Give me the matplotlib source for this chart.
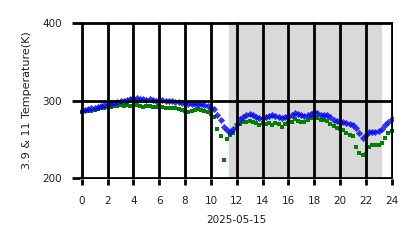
import numpy as np
import matplotlib
matplotlib.use("Agg")
import matplotlib.pyplot as plt

hours = np.arange(0, 24.01, 0.25)

temp_39 = [287, 288, 289, 290, 291, 292, 293, 294, 295, 296, 297, 298,
           299, 300, 301, 302, 303, 303, 302, 302, 301, 302, 301, 300,
           301, 301, 300, 299, 299, 298, 298, 297, 297, 296, 296, 295,
           295, 295, 294, 293, 291, 289, 282, 275, 266, 262, 260, 264,
           270, 276, 279, 282, 283, 281, 279, 278, 277, 279, 280, 281,
           280, 279, 278, 279, 279, 281, 284, 283, 281, 280, 281, 283,
           285, 284, 282, 281, 281, 279, 275, 274, 273, 272, 271, 270,
           268, 265, 258, 252, 256, 260, 260, 260, 261, 263, 268, 273, 276]

temp_11 = [285, 286, 287, 287, 288, 289, 290, 291, 292, 292, 293, 293,
           294, 293, 294, 293, 293, 294, 293, 292, 293, 293, 292, 292,
           293, 292, 291, 291, 290, 290, 289, 288, 287, 285, 287, 288,
           289, 288, 287, 285, 283, 279, 263, 255, 224, 251, 256, 258,
           265, 270, 272, 273, 274, 272, 271, 269, 271, 270, 271, 268,
           271, 270, 266, 270, 271, 273, 276, 274, 272, 273, 275, 277,
           279, 277, 275, 275, 274, 270, 267, 265, 264, 262, 258, 256,
           255, 240, 232, 230, 231, 240, 243, 243, 243, 245, 252, 258, 261]

night_start, night_end = 11.4, 23.15
xticks = list(range(0, 25, 2))
yticks = [200, 300, 400]
date_label = "2025-05-15"

fig = plt.figure(figsize=(4.18, 2.48), dpi=100)
ax = fig.add_axes([0.191, 0.278, 0.749, 0.633])

ax.axvspan(night_start, night_end, color="#d9d9d9", zorder=0)
ax.scatter(hours, temp_11, marker="s", s=8, color="#008000",
           linewidths=0, zorder=2)
ax.scatter(hours, temp_39, marker="D", s=13, color="#0000ff", alpha=0.8,
           linewidths=0, zorder=2)

ax.set_xlim(-0.15, 24.1)
ax.set_ylim(199, 401)
ax.set_xticks(xticks)
ax.set_yticks(yticks)
ax.grid(True, color="black", linewidth=2)
ax.set_axisbelow(False)
for s in ax.spines.values():
    s.set_visible(False)
ax.tick_params(axis="x", length=4.5, width=2, pad=8, labelsize=7.5,
               labelcolor="#222222")
ax.tick_params(axis="y", length=6, width=2, pad=7, labelsize=7.5,
               labelcolor="#222222")
ax.set_xlabel(date_label, fontsize=7.5, labelpad=6, color="#222222")
ax.set_ylabel("3.9 & 11 Temperature(K)", fontsize=8, labelpad=7,
              color="#222222")

fig.savefig("out.png", dpi=100)
